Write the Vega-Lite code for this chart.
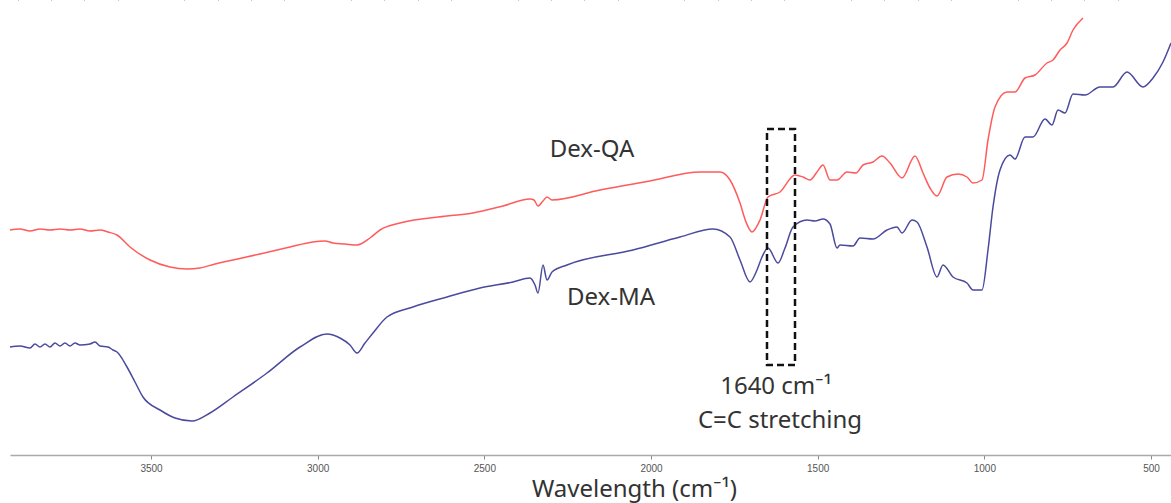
{
  "$schema": "https://vega.github.io/schema/vega-lite/v6.json",
  "width": 1161,
  "height": 455,
  "padding": {"left": 10, "top": 0, "right": 0, "bottom": 48},
  "autosize": {"type": "none"},
  "background": "white",
  "config": {"view": {"stroke": null}},
  "datasets": {
    "spectra": [
      {"sample":"Dex-QA","wn":3923,"T":225},{"sample":"Dex-QA","wn":3893,"T":226},{"sample":"Dex-QA","wn":3863,"T":224},{"sample":"Dex-QA","wn":3833,"T":226},{"sample":"Dex-QA","wn":3803,"T":225},{"sample":"Dex-QA","wn":3773,"T":226},{"sample":"Dex-QA","wn":3743,"T":225},{"sample":"Dex-QA","wn":3713,"T":226},{"sample":"Dex-QA","wn":3683,"T":224},{"sample":"Dex-QA","wn":3653,"T":225},{"sample":"Dex-QA","wn":3629,"T":223},{"sample":"Dex-QA","wn":3602,"T":220},{"sample":"Dex-QA","wn":3563,"T":208},{"sample":"Dex-QA","wn":3503,"T":195},{"sample":"Dex-QA","wn":3443,"T":188},{"sample":"Dex-QA","wn":3392,"T":186},{"sample":"Dex-QA","wn":3353,"T":187},{"sample":"Dex-QA","wn":3308,"T":191},{"sample":"Dex-QA","wn":3254,"T":195},{"sample":"Dex-QA","wn":3173,"T":201},{"sample":"Dex-QA","wn":3083,"T":208},{"sample":"Dex-QA","wn":3014,"T":213},{"sample":"Dex-QA","wn":2978,"T":214},{"sample":"Dex-QA","wn":2954,"T":212},{"sample":"Dex-QA","wn":2918,"T":211},{"sample":"Dex-QA","wn":2882,"T":210},{"sample":"Dex-QA","wn":2843,"T":217},{"sample":"Dex-QA","wn":2813,"T":225},{"sample":"Dex-QA","wn":2753,"T":232},{"sample":"Dex-QA","wn":2612,"T":239},{"sample":"Dex-QA","wn":2534,"T":242},{"sample":"Dex-QA","wn":2444,"T":249},{"sample":"Dex-QA","wn":2363,"T":256},{"sample":"Dex-QA","wn":2351,"T":255},{"sample":"Dex-QA","wn":2339,"T":249},{"sample":"Dex-QA","wn":2324,"T":254},{"sample":"Dex-QA","wn":2312,"T":258},{"sample":"Dex-QA","wn":2297,"T":255},{"sample":"Dex-QA","wn":2153,"T":265},{"sample":"Dex-QA","wn":2003,"T":274},{"sample":"Dex-QA","wn":1853,"T":283},{"sample":"Dex-QA","wn":1793,"T":283},{"sample":"Dex-QA","wn":1763,"T":275},{"sample":"Dex-QA","wn":1733,"T":252},{"sample":"Dex-QA","wn":1715,"T":233},{"sample":"Dex-QA","wn":1697,"T":223},{"sample":"Dex-QA","wn":1673,"T":235},{"sample":"Dex-QA","wn":1649,"T":258},{"sample":"Dex-QA","wn":1613,"T":263},{"sample":"Dex-QA","wn":1568,"T":280},{"sample":"Dex-QA","wn":1544,"T":278},{"sample":"Dex-QA","wn":1523,"T":275},{"sample":"Dex-QA","wn":1502,"T":283},{"sample":"Dex-QA","wn":1484,"T":290},{"sample":"Dex-QA","wn":1463,"T":275},{"sample":"Dex-QA","wn":1442,"T":275},{"sample":"Dex-QA","wn":1412,"T":283},{"sample":"Dex-QA","wn":1385,"T":282},{"sample":"Dex-QA","wn":1364,"T":290},{"sample":"Dex-QA","wn":1334,"T":293},{"sample":"Dex-QA","wn":1307,"T":299},{"sample":"Dex-QA","wn":1283,"T":292},{"sample":"Dex-QA","wn":1247,"T":277},{"sample":"Dex-QA","wn":1208,"T":299},{"sample":"Dex-QA","wn":1184,"T":282},{"sample":"Dex-QA","wn":1163,"T":267},{"sample":"Dex-QA","wn":1142,"T":259},{"sample":"Dex-QA","wn":1112,"T":278},{"sample":"Dex-QA","wn":1079,"T":281},{"sample":"Dex-QA","wn":1052,"T":278},{"sample":"Dex-QA","wn":1034,"T":272},{"sample":"Dex-QA","wn":1007,"T":275},{"sample":"Dex-QA","wn":989,"T":315},{"sample":"Dex-QA","wn":968,"T":348},{"sample":"Dex-QA","wn":932,"T":363},{"sample":"Dex-QA","wn":908,"T":363},{"sample":"Dex-QA","wn":878,"T":377},{"sample":"Dex-QA","wn":848,"T":380},{"sample":"Dex-QA","wn":812,"T":392},{"sample":"Dex-QA","wn":794,"T":395},{"sample":"Dex-QA","wn":773,"T":405},{"sample":"Dex-QA","wn":752,"T":412},{"sample":"Dex-QA","wn":734,"T":425},{"sample":"Dex-QA","wn":704,"T":437},
      {"sample":"Dex-MA","wn":3923,"T":108},{"sample":"Dex-MA","wn":3893,"T":109},{"sample":"Dex-MA","wn":3863,"T":107},{"sample":"Dex-MA","wn":3848,"T":111},{"sample":"Dex-MA","wn":3833,"T":108},{"sample":"Dex-MA","wn":3818,"T":111},{"sample":"Dex-MA","wn":3803,"T":108},{"sample":"Dex-MA","wn":3788,"T":112},{"sample":"Dex-MA","wn":3773,"T":109},{"sample":"Dex-MA","wn":3758,"T":112},{"sample":"Dex-MA","wn":3743,"T":109},{"sample":"Dex-MA","wn":3728,"T":112},{"sample":"Dex-MA","wn":3713,"T":110},{"sample":"Dex-MA","wn":3683,"T":111},{"sample":"Dex-MA","wn":3668,"T":113},{"sample":"Dex-MA","wn":3653,"T":109},{"sample":"Dex-MA","wn":3629,"T":108},{"sample":"Dex-MA","wn":3614,"T":105},{"sample":"Dex-MA","wn":3602,"T":103},{"sample":"Dex-MA","wn":3572,"T":88},{"sample":"Dex-MA","wn":3548,"T":73},{"sample":"Dex-MA","wn":3524,"T":58},{"sample":"Dex-MA","wn":3473,"T":45},{"sample":"Dex-MA","wn":3428,"T":37},{"sample":"Dex-MA","wn":3377,"T":34},{"sample":"Dex-MA","wn":3323,"T":42},{"sample":"Dex-MA","wn":3254,"T":58},{"sample":"Dex-MA","wn":3152,"T":82},{"sample":"Dex-MA","wn":3053,"T":108},{"sample":"Dex-MA","wn":2972,"T":121},{"sample":"Dex-MA","wn":2933,"T":117},{"sample":"Dex-MA","wn":2903,"T":110},{"sample":"Dex-MA","wn":2882,"T":102},{"sample":"Dex-MA","wn":2858,"T":112},{"sample":"Dex-MA","wn":2834,"T":122},{"sample":"Dex-MA","wn":2792,"T":138},{"sample":"Dex-MA","wn":2714,"T":148},{"sample":"Dex-MA","wn":2612,"T":158},{"sample":"Dex-MA","wn":2513,"T":167},{"sample":"Dex-MA","wn":2414,"T":173},{"sample":"Dex-MA","wn":2363,"T":177},{"sample":"Dex-MA","wn":2348,"T":170},{"sample":"Dex-MA","wn":2339,"T":162},{"sample":"Dex-MA","wn":2324,"T":190},{"sample":"Dex-MA","wn":2312,"T":175},{"sample":"Dex-MA","wn":2297,"T":183},{"sample":"Dex-MA","wn":2252,"T":190},{"sample":"Dex-MA","wn":2054,"T":205},{"sample":"Dex-MA","wn":1913,"T":218},{"sample":"Dex-MA","wn":1814,"T":226},{"sample":"Dex-MA","wn":1763,"T":218},{"sample":"Dex-MA","wn":1733,"T":195},{"sample":"Dex-MA","wn":1703,"T":173},{"sample":"Dex-MA","wn":1682,"T":185},{"sample":"Dex-MA","wn":1667,"T":198},{"sample":"Dex-MA","wn":1649,"T":207},{"sample":"Dex-MA","wn":1619,"T":192},{"sample":"Dex-MA","wn":1598,"T":207},{"sample":"Dex-MA","wn":1574,"T":228},{"sample":"Dex-MA","wn":1532,"T":235},{"sample":"Dex-MA","wn":1508,"T":234},{"sample":"Dex-MA","wn":1484,"T":236},{"sample":"Dex-MA","wn":1463,"T":231},{"sample":"Dex-MA","wn":1442,"T":207},{"sample":"Dex-MA","wn":1433,"T":210},{"sample":"Dex-MA","wn":1394,"T":209},{"sample":"Dex-MA","wn":1373,"T":217},{"sample":"Dex-MA","wn":1334,"T":216},{"sample":"Dex-MA","wn":1292,"T":225},{"sample":"Dex-MA","wn":1262,"T":228},{"sample":"Dex-MA","wn":1247,"T":222},{"sample":"Dex-MA","wn":1217,"T":235},{"sample":"Dex-MA","wn":1202,"T":233},{"sample":"Dex-MA","wn":1172,"T":208},{"sample":"Dex-MA","wn":1142,"T":178},{"sample":"Dex-MA","wn":1124,"T":190},{"sample":"Dex-MA","wn":1094,"T":178},{"sample":"Dex-MA","wn":1052,"T":172},{"sample":"Dex-MA","wn":1034,"T":165},{"sample":"Dex-MA","wn":1007,"T":165},{"sample":"Dex-MA","wn":989,"T":205},{"sample":"Dex-MA","wn":974,"T":248},{"sample":"Dex-MA","wn":953,"T":285},{"sample":"Dex-MA","wn":923,"T":300},{"sample":"Dex-MA","wn":908,"T":296},{"sample":"Dex-MA","wn":878,"T":318},{"sample":"Dex-MA","wn":854,"T":318},{"sample":"Dex-MA","wn":818,"T":336},{"sample":"Dex-MA","wn":797,"T":330},{"sample":"Dex-MA","wn":779,"T":345},{"sample":"Dex-MA","wn":758,"T":342},{"sample":"Dex-MA","wn":734,"T":361},{"sample":"Dex-MA","wn":698,"T":360},{"sample":"Dex-MA","wn":653,"T":368},{"sample":"Dex-MA","wn":614,"T":368},{"sample":"Dex-MA","wn":572,"T":383},{"sample":"Dex-MA","wn":524,"T":368},{"sample":"Dex-MA","wn":494,"T":377},{"sample":"Dex-MA","wn":464,"T":393},{"sample":"Dex-MA","wn":440,"T":412}
    ],
    "labels": [
      {"text":"Dex-QA","wn":2177,"T":305},
      {"text":"Dex-MA","wn":2120,"T":157},
      {"text":"1640 cm⁻¹","wn":1625,"T":68},
      {"text":"C=C stretching","wn":1613,"T":34}
    ],
    "box": [{"wn1":1652,"wn2":1568,"T1":326,"T2":90}]
  },
  "resolve": {"axis": {"x": "independent"}},
  "layer": [
    {
      "data": {"name": "spectra"},
      "mark": {"type": "line", "strokeWidth": 1.5, "interpolate": "monotone"},
      "encoding": {
        "x": {"field": "wn", "type": "quantitative",
              "scale": {"domain": [440, 3923], "reverse": true, "nice": false, "zero": false},
              "axis": {"values": [3500, 3000, 2500, 2000, 1500, 1000, 500], "format": "d", "grid": false,
                       "labelFontSize": 10, "labelColor": "#555", "labelFont": "Liberation Sans Narrow, Liberation Sans",
                       "domainColor": "#aaa", "domainWidth": 1.5, "tickColor": "#888", "tickSize": 4,
                       "labelPadding": 4, "labelFlush": false,
                       "title": "Wavelength (cm⁻¹)", "titleFontSize": 24, "titleFontWeight": "normal",
                       "titleColor": "#333", "titleFont": "Noto Sans", "titleX": 624, "titleY": 41,
                       "titleBaseline": "alphabetic", "titleAnchor": "middle", "titleAlign": "center"}},
        "y": {"field": "T", "type": "quantitative", "scale": {"domain": [0, 455], "nice": false}, "axis": null},
        "color": {"field": "sample", "type": "nominal",
                  "scale": {"domain": ["Dex-QA", "Dex-MA"], "range": ["#ff5b5b", "#4a4a9e"]}, "legend": null},
        "detail": {"field": "sample"}
      }
    },
    {
      "data": {"name": "box"},
      "mark": {"type": "rect", "fill": null, "stroke": "#111", "strokeWidth": 2.5, "strokeDash": [7, 4]},
      "encoding": {
        "x": {"field": "wn1", "type": "quantitative",
              "axis": {"values": [3900,3800,3700,3600,3400,3300,3200,3100,2900,2800,2700,2600,2400,2300,2200,2100,1900,1800,1700,1600,1400,1300,1200,1100,900,800,700,600],
                       "labels": false, "title": null, "domain": false, "grid": false,
                       "tickColor": "#888", "tickSize": 2}},
        "x2": {"field": "wn2"},
        "y": {"field": "T1", "type": "quantitative"},
        "y2": {"field": "T2"}
      }
    },
    {
      "data": {"name": "labels"},
      "mark": {"type": "text", "fontSize": 24, "font": "Noto Sans", "color": "#333", "align": "center", "baseline": "middle"},
      "encoding": {
        "x": {"field": "wn", "type": "quantitative", "axis": null},
        "y": {"field": "T", "type": "quantitative"},
        "text": {"field": "text"}
      }
    }
  ]
}
